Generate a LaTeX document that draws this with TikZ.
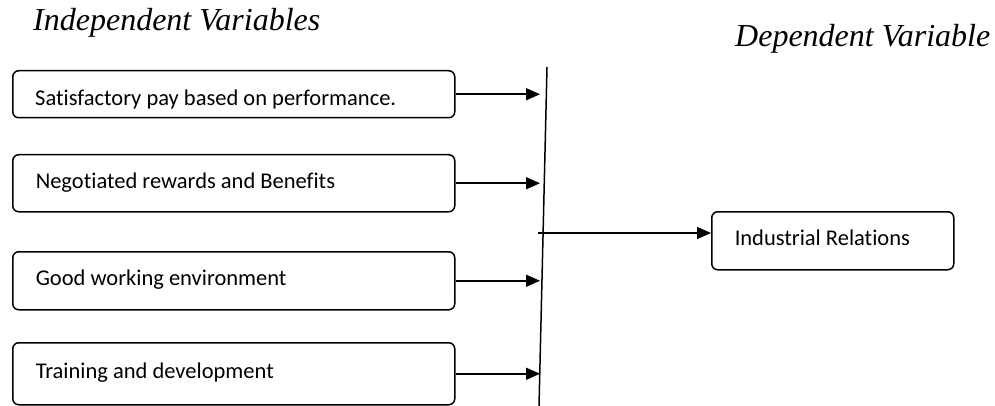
\documentclass[tikz,border=0pt]{standalone}
\usepackage{fontspec}
\setmainfont{Carlito}[Ligatures=NoCommon]
\newfontfamily\headfont{Liberation Serif}
\usetikzlibrary{positioning,calc,arrows.meta}

\begin{document}
\begin{tikzpicture}[x=1pt, y=-1pt,
  varbox/.style={draw, line width=1.5pt, rounded corners=6pt, anchor=north west,
    minimum width=442pt, text width=396pt, inner xsep=23pt, align=flush left,
    text height=15pt, text depth=5pt, font=\fontsize{22.5}{26}\selectfont},
  arr/.style={line width=1.5pt, -{Triangle[length=14pt,width=12pt]}},
  head/.style={anchor=base west, inner sep=0pt, font=\headfont\itshape\fontsize{32}{38}\selectfont}]
\useasboundingbox (0,0) rectangle (995,406);
% headings
\node[head] (indep) at (33,31) {Independent Variables};
\node[head] (dep) at (735,47) {Dependent Variable};
% independent variables
\node[varbox, minimum height=47pt] (pay) at (12,70) {};
\begin{scope}
\clip (12,70) rectangle (453,108.5);
\node[anchor=base west, inner sep=0pt, font=\fontsize{22.5}{26}\selectfont] (paytext) at (35,106) {Satisfactory pay based on performance.};
\end{scope}
\node[varbox, minimum height=57pt] (rewards) at (12,154) {Negotiated rewards and Benefits};
\node[varbox, minimum height=58pt] (env) at (12,251) {Good working environment};
\node[varbox, minimum height=62pt] (train) at (12,342) {Training and development};
% dependent variable
\node[varbox, minimum width=242pt, text width=196pt, minimum height=58pt] (ir) at (711,211) {Industrial Relations};
% joining bar
\coordinate (bartop) at (547,67);
\coordinate (barbot) at (539,406);
\coordinate (bar) at (540,0);
\coordinate (mid) at (538,233);
\draw[line width=1.5pt] (bartop) -- (barbot);
\draw[arr] (pay.east) -- (pay.east -| bar);
\draw[arr] (rewards.east) -- (rewards.east -| bar);
\draw[arr] (env.east) -- (env.east -| bar);
\draw[arr] (train.east) -- (train.east -| bar);
\draw[arr] (mid) -- (mid -| ir.west);
\end{tikzpicture}
\end{document}
